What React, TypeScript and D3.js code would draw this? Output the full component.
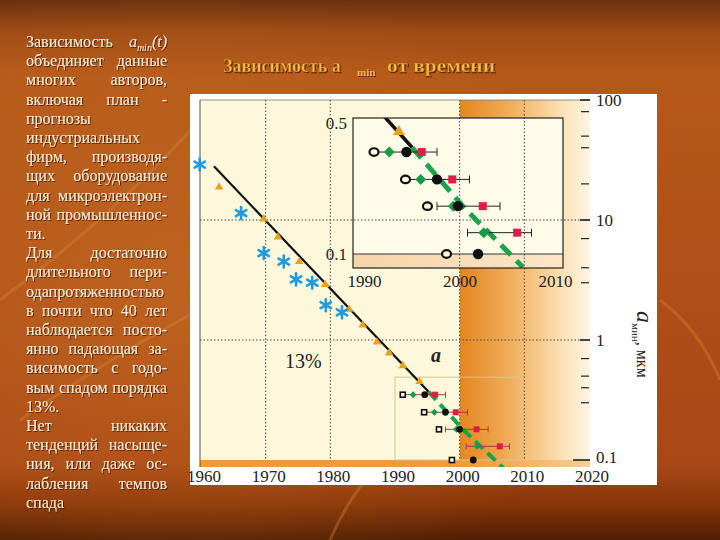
import React from "react";
import * as d3 from "d3";

// ---------- data ----------
const xTickYears = [1960, 1970, 1980, 1990, 2000, 2010, 2020];
const yTickValues = [100, 10, 1, 0.1];
const yTickLabels = ["100", "10", "1", "0.1"];
const yMinorTicks = [80, 50, 40, 20, 7, 4, 3, 0.7, 0.5, 0.4, 0.3];
const gridYears = [1970, 1980, 2000, 2010];
const gridValues = [10, 1];
const insetTickYears = [1990, 2000, 2010];
const insetTickValues = [0.5, 0.1];
const insetTickLabels = ["0.5", "0.1"];

const asteriskYears = [1959.8, 1966.2, 1969.7, 1972.8, 1974.7, 1977.2, 1979.3, 1981.8];
const asteriskValues = [29, 11.4, 5.3, 4.5, 3.2, 3.0, 1.95, 1.7];

const triangleYears = [1962.8, 1969.7, 1971.9, 1975.2, 1979.2, 1982.9, 1985.0, 1987.2, 1989.1, 1991.2, 1993.8];
const triangleValues = [18.8, 10.2, 7.2, 4.5, 2.9, 1.8, 1.33, 0.96, 0.78, 0.61, 0.45];

const trendYears = [1962, 1995.2];
const trendValues = [28, 0.37];
const forecastYears = [1995.2, 2000.5, 2006.8];
const forecastValues = [0.37, 0.18, 0.085];

const nodeValues = [0.35, 0.25, 0.18, 0.13, 0.1];
const openYears = [1991.2, 1994.5, 1996.8, NaN, 1998.8];
const greenYears = [1992.8, 1996.1, 1999.5, 2002.7, NaN];
const blackYears = [1994.6, 1997.8, 2000.0, NaN, 2002.1];
const redYears = [1996.2, 1999.4, 2002.6, 2006.2, NaN];
const errLoYears = [1991.2, 1994.5, 1997.8, 2001.0, NaN];
const errHiYears = [1997.8, 2001.2, 2004.4, 2007.7, NaN];

const zoomBoxYears = [1990, 2009.5];
const zoomBoxValue = 0.49;

const textLines = [
  "Зависимость",
  "объединяет данные",
  "многих авторов,",
  "включая план -",
  "прогнозы",
  "индустриальных",
  "фирм, производя-",
  "щих оборудование",
  "для микроэлектрон-",
  "ной промышленнос-",
  "ти.",
  "Для достаточно",
  "длительного пери-",
  "одапротяженностью",
  "в почти что 40 лет",
  "наблюдается посто-",
  "янно падающая за-",
  "висимость с годо-",
  "вым спадом порядка",
  "13%.",
  "Нет никаких",
  "тенденций насыще-",
  "ния, или даже ос-",
  "лабления темпов",
  "спада",
];

// ---------- helpers ----------
const SERIF = '"Liberation Serif", "Times New Roman", serif';
let _ctx: CanvasRenderingContext2D | null = null;
function measure(s: string, font: string) {
  if (!_ctx) _ctx = document.createElement("canvas").getContext("2d");
  if (!_ctx) return s.length * 8;
  _ctx.font = font;
  return _ctx.measureText(s).width;
}

const xM = d3.scaleLinear().domain([1960, 2020]).range([201, 589]);
const yM = d3.scaleLog().domain([0.1, 100]).range([460, 100]);
const xI = d3.scaleLinear().domain([1989, 2011]).range([353, 563]);
const yI = d3.scaleLog().domain([0.1, 0.5]).range([254, 123]);

const P = { left: 200, right: 590, top: 100, bottom: 460, band: 467 };
const INS = { left: 353, right: 563, top: 118, bottom: 268 };

function Asterisk({ x, y, r = 6 }: { x: number; y: number; r?: number }) {
  const angles = [90, 30, 150];
  return (
    <g>
      {angles.map((a) => {
        const rad = (a * Math.PI) / 180;
        const dx = Math.cos(rad) * r;
        const dy = Math.sin(rad) * r;
        return (
          <line key={a} x1={x - dx} y1={y - dy} x2={x + dx} y2={y + dy}
            stroke="#1f9be0" strokeWidth={2.6} strokeLinecap="round" />
        );
      })}
    </g>
  );
}

function Rows({ xs, ys, big }: { xs: any; ys: any; big: boolean }) {
  const capH = big ? 4 : 3;
  const errColor = big ? "#222" : "#a83848";
  return (
    <g>
      {nodeValues.map((v, i) => {
        const y = ys(v);
        const els: any[] = [];
        if (!isNaN(errLoYears[i])) {
          els.push(
            <g key={"e" + i}>
              <line x1={xs(errLoYears[i])} x2={xs(errHiYears[i])} y1={y} y2={y} stroke={errColor} strokeWidth={1} />
              <line x1={xs(errLoYears[i])} x2={xs(errLoYears[i])} y1={y - capH} y2={y + capH} stroke={errColor} strokeWidth={1} />
              <line x1={xs(errHiYears[i])} x2={xs(errHiYears[i])} y1={y - capH} y2={y + capH} stroke={errColor} strokeWidth={1} />
            </g>
          );
        }
        if (!isNaN(openYears[i])) {
          els.push(big ? (
            <ellipse key={"o" + i} cx={xs(openYears[i])} cy={y} rx={4.5} ry={3.8} fill="#fffbe8" stroke="#111" strokeWidth={2.2} />
          ) : (
            <rect key={"o" + i} x={xs(openYears[i]) - 2.5} y={y - 2.5} width={5} height={5} fill="#fffbe8" stroke="#111" strokeWidth={1.6} />
          ));
        }
        if (!isNaN(greenYears[i])) {
          const s = big ? 5.5 : 3.5;
          const gx = xs(greenYears[i]);
          els.push(<path key={"g" + i} d={`M${gx},${y - s}L${gx + s},${y}L${gx},${y + s}L${gx - s},${y}Z`} fill="#1a9a4a" />);
        }
        if (!isNaN(blackYears[i])) {
          els.push(<circle key={"b" + i} cx={xs(blackYears[i])} cy={y} r={big ? 5.2 : 3.4} fill="#111" />);
        }
        if (!isNaN(redYears[i])) {
          const s = big ? 8 : 6;
          els.push(<rect key={"r" + i} x={xs(redYears[i]) - s / 2} y={y - s / 2} width={s} height={s} fill="#e01e44" />);
        }
        return <g key={i}>{els}</g>;
      })}
    </g>
  );
}

export default function App() {
  const trendPts = trendYears.map((t, i) => [t, trendValues[i]] as [number, number]);
  const fcPts = forecastYears.map((t, i) => [t, forecastValues[i]] as [number, number]);
  const lineM = d3.line<[number, number]>().x((d) => xM(d[0])).y((d) => yM(d[1]));
  const lineI = d3.line<[number, number]>().x((d) => xI(d[0])).y((d) => yI(d[1]));
  const tri = d3.symbol().type(d3.symbolTriangle);

  const colL = 26, colR = 167;
  const font = `16px ${SERIF}`;

  return (
    <svg width={720} height={540} style={{ position: "fixed", left: 0, top: 0 }}>
      <defs>
        <linearGradient id="slideBg" x1="0" y1="0" x2="0" y2="1">
          <stop offset="0" stopColor="#6a300e" />
          <stop offset="0.06" stopColor="#a04c16" />
          <stop offset="0.14" stopColor="#b5591a" />
          <stop offset="0.86" stopColor="#a84816" />
          <stop offset="0.93" stopColor="#8a3608" />
          <stop offset="1" stopColor="#4e1e04" />
        </linearGradient>
        <radialGradient id="glow" cx="0.25" cy="0.55" r="0.6">
          <stop offset="0" stopColor="#d27a2a" stopOpacity="0.45" />
          <stop offset="1" stopColor="#d27a2a" stopOpacity="0" />
        </radialGradient>
        <linearGradient id="orangeZone" gradientUnits="userSpaceOnUse" x1={xM(2000)} y1="0" x2={P.right} y2="0">
          <stop offset="0" stopColor="#e4861f" />
          <stop offset="0.35" stopColor="#efa955" />
          <stop offset="0.55" stopColor="#f5c37e" />
          <stop offset="0.8" stopColor="#fbe2b9" />
          <stop offset="1" stopColor="#fef5e3" />
        </linearGradient>
        <linearGradient id="bottomBand" x1="0" y1="0" x2="1" y2="0">
          <stop offset="0" stopColor="#ec9a3e" />
          <stop offset="0.7" stopColor="#ee9c40" />
          <stop offset="1" stopColor="#f7cf99" />
        </linearGradient>
        <linearGradient id="insetBand" x1="0" y1="0" x2="1" y2="0">
          <stop offset="0" stopColor="#f7d4a8" />
          <stop offset="1" stopColor="#fbe6c8" />
        </linearGradient>
        <filter id="shadow" x="-5%" y="-5%" width="110%" height="130%">
          <feDropShadow dx="1" dy="1" stdDeviation="0.4" floodColor="#3a1200" floodOpacity="0.75" />
        </filter>
        <clipPath id="clipMain"><rect x={P.left} y={P.top} width={P.right - P.left} height={P.band - P.top} /></clipPath>
        <clipPath id="clipInset"><rect x={INS.left} y={INS.top} width={INS.right - INS.left} height={INS.bottom - INS.top} /></clipPath>
      </defs>

      {/* slide background */}
      <rect x={0} y={0} width={720} height={540} fill="url(#slideBg)" />
      <rect x={0} y={0} width={720} height={540} fill="url(#glow)" />
      <g fill="none" stroke="#d98a3a" strokeOpacity={0.35} strokeWidth={3}>
        <path d="M0,300 Q120,210 200,120" />
        <path d="M20,420 Q150,330 260,280" />
        <path d="M330,540 Q360,470 420,430" />
        <path d="M660,300 Q700,330 720,380" />
      </g>

      {/* left text */}
      <g filter="url(#shadow)" fill="#f6ecd6" fontFamily={SERIF} fontSize={16}>
        {textLines.map((ln, i) => {
          const y = 47 + 19.2 * i;
          if (i === 0) {
            return (
              <g key={i}>
                <text x={colL} y={y}>{ln}</text>
                <text x={colR} y={y} textAnchor="end" fontStyle="italic">
                  <tspan>a</tspan>
                  <tspan fontSize={10} dy={4}>min</tspan>
                  <tspan dy={-4}>(t)</tspan>
                </text>
              </g>
            );
          }
          const words = ln.split(" ");
          if (words.length < 2) return <text key={i} x={colL} y={y}>{ln}</text>;
          const widths = words.map((w) => measure(w, font));
          const total = widths.reduce((a, b) => a + b, 0);
          const gap = (colR - colL - total) / (words.length - 1);
          let x = colL;
          return (
            <g key={i}>
              {words.map((w, j) => {
                const el = <text key={j} x={x} y={y}>{w}</text>;
                x += widths[j] + gap;
                return el;
              })}
            </g>
          );
        })}
      </g>

      {/* title */}
      <g filter="url(#shadow)" fontFamily={SERIF} fontWeight="bold" fill="#f5b843">
        <text x={223} y={72} fontSize={18} stroke="#9a5210" strokeWidth={0.4}>Зависимость a</text>
        <text x={357} y={76} fontSize={11}>min</text>
        <text x={387} y={72} fontSize={18} stroke="#9a5210" strokeWidth={0.4} textLength={108} lengthAdjust="spacingAndGlyphs">от времени</text>
      </g>

      {/* white chart card */}
      <rect x={190} y={94} width={467} height={391} fill="#ffffff" />

      {/* main plot background */}
      <rect x={P.left} y={P.top} width={P.right - P.left} height={P.bottom - P.top} fill="#fdf8dc" />
      <rect x={xM(2000)} y={P.top} width={P.right - xM(2000)} height={P.bottom - P.top} fill="url(#orangeZone)" />
      <rect x={P.left} y={P.bottom} width={P.right - P.left} height={P.band - P.bottom} fill="url(#bottomBand)" />
      <line x1={P.left} x2={P.left} y1={P.top} y2={P.band} stroke="#555" strokeWidth={1} />
      <line x1={P.left} x2={P.right} y1={P.top} y2={P.top} stroke="#777" strokeWidth={0.8} />

      {/* inset background */}
      <rect x={INS.left} y={INS.top} width={INS.right - INS.left} height={INS.bottom - INS.top} fill="#fffbe9" />
      <rect x={INS.left} y={yI(0.1)} width={INS.right - INS.left} height={INS.bottom - yI(0.1)} fill="url(#insetBand)" />

      {/* main gridlines */}
      <g stroke="#444" strokeWidth={1} strokeDasharray="1.5,2">
        {gridYears.map((t) => (
          <line key={t} x1={xM(t)} x2={xM(t)} y1={P.top} y2={P.bottom} />
        ))}
        {gridValues.map((v) => (
          <line key={v} x1={P.left} x2={P.right} y1={yM(v)} y2={yM(v)} />
        ))}
      </g>

      {/* zoom-region box */}
      <rect x={xM(zoomBoxYears[0])} y={yM(zoomBoxValue)} width={xM(zoomBoxYears[1]) - xM(zoomBoxYears[0])}
        height={P.bottom - yM(zoomBoxValue)} fill="none" stroke="#d2c98c" strokeWidth={1} />

      {/* main series */}
      <g clipPath="url(#clipMain)">
        <path d={lineM(trendPts) || ""} fill="none" stroke="#111" strokeWidth={2.2} />
        <path d={lineM(fcPts) || ""} fill="none" stroke="#1aa34a" strokeWidth={4} strokeDasharray="11,6" />
        {triangleYears.map((t, i) => (
          <path key={i} d={tri.size(32)() || ""} transform={`translate(${xM(t)},${yM(triangleValues[i])})`} fill="#e8a31a" />
        ))}
        <Rows xs={xM} ys={yM} big={false} />
      </g>
      {asteriskYears.map((t, i) => (
        <Asterisk key={i} x={xM(t)} y={yM(asteriskValues[i])} />
      ))}

      {/* inset */}
      <g clipPath="url(#clipInset)">
        <line x1={INS.left} x2={INS.right} y1={yI(0.1)} y2={yI(0.1)} stroke="#333" strokeWidth={1} />
        <path d={lineI(trendPts) || ""} fill="none" stroke="#111" strokeWidth={3.5} />
        <path d={lineI(fcPts) || ""} fill="none" stroke="#1aa34a" strokeWidth={5} strokeDasharray="14,8" />
        {triangleYears.map((t, i) => (
          <path key={i} d={tri.size(60)() || ""} transform={`translate(${xI(t)},${yI(triangleValues[i])})`} fill="#e8a31a" />
        ))}
        <Rows xs={xI} ys={yI} big={true} />
      </g>
      <rect x={INS.left} y={INS.top} width={INS.right - INS.left} height={INS.bottom - INS.top} fill="none" stroke="#222" strokeWidth={1.2} />

      {/* inset tick labels */}
      <g fontFamily={SERIF} fontSize={17} fill="#222">
        {insetTickValues.map((v, i) => (
          <text key={v} x={INS.left - 6} y={yI(v) + 6} textAnchor="end">{insetTickLabels[i]}</text>
        ))}
        {insetTickYears.map((t) => (
          <text key={t} x={xI(t) + 2} y={287} textAnchor="middle">{t}</text>
        ))}
      </g>

      {/* main annotations */}
      <text x={285} y={368} fontFamily={SERIF} fontSize={20} fill="#222">13%</text>
      <text x={431} y={362} fontFamily={SERIF} fontSize={20} fontStyle="italic" fontWeight="bold" fill="#222">a</text>

      {/* right axis ticks */}
      <g stroke="#222">
        {yMinorTicks.map((v) => (
          <line key={v} x1={581} x2={589} y1={yM(v)} y2={yM(v)} strokeWidth={1.2} />
        ))}
        {yTickValues.map((v) => (
          <line key={v} x1={v === 0.1 ? 573 : 580} x2={590} y1={yM(v)} y2={yM(v)} strokeWidth={1.6} />
        ))}
      </g>
      <g fontFamily={SERIF} fontSize={17} fill="#222">
        {yTickValues.map((v, i) => (
          <text key={v} x={596} y={yM(v) + (i === yTickValues.length - 1 ? 3 : 6)}>{yTickLabels[i]}</text>
        ))}
        {xTickYears.map((t) => (
          <text key={t} x={xM(t) + 3} y={482} textAnchor="middle">{t}</text>
        ))}
      </g>

      {/* y axis title */}
      <text transform="translate(637,311) rotate(90)" fontFamily={SERIF} fill="#222">
        <tspan fontSize={24} fontStyle="italic">a</tspan>
        <tspan fontSize={11} dy={5}>мин</tspan>
        <tspan fontSize={16} dy={-5}>, мкм</tspan>
      </text>
    </svg>
  );
}
